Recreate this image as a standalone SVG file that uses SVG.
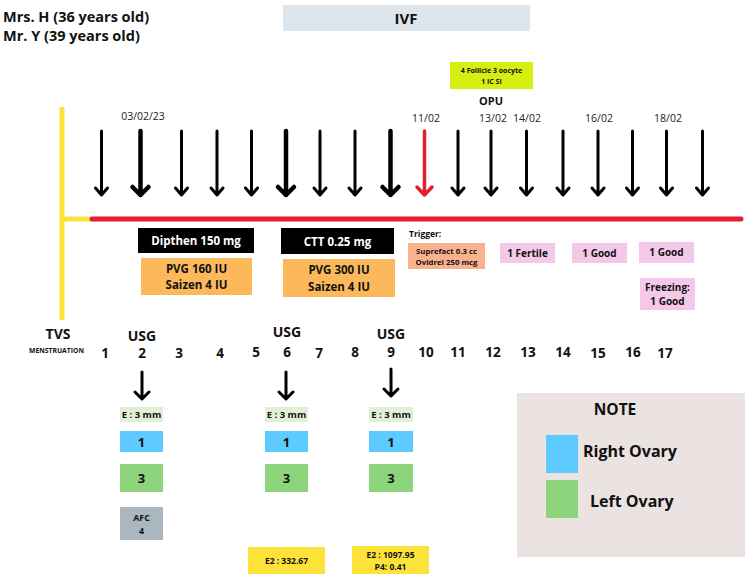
<svg xmlns="http://www.w3.org/2000/svg" width="750" height="582" viewBox="0 0 750 582">
<style>
text{font-family:"Open Sans","Liberation Sans",sans-serif;fill:#111}
.b{font-weight:700}
.c{text-anchor:middle}
.ar{fill:none;stroke:#000;stroke-width:3;stroke-linecap:round;stroke-linejoin:round}
.arb{fill:none;stroke:#000;stroke-width:4.5;stroke-linecap:round;stroke-linejoin:round}
.arr{fill:none;stroke:#e3202a;stroke-width:3.5;stroke-linecap:round;stroke-linejoin:round}
.date{font-size:10.5px;fill:#222}
.num{font-size:13.5px;font-weight:700}
.usg{font-size:14px;font-weight:700}
.pink{fill:#f3c8e8}
.pt{font-size:10px;font-weight:700}
.ez{fill:#e2efd4}
.et{font-size:9.5px;font-weight:700}
.blue{fill:#5dcbff}
.green{fill:#8dd47c}
.yel{fill:#fde23a}
</style>
<rect width="750" height="582" fill="#fff"/>

<g id="title">
<text class="b" x="3" y="22" font-size="14.5">Mrs. H (36 years old)</text>
<text class="b" x="3" y="41" font-size="14.5">Mr. Y (39 years old)</text>
</g>
<g id="ivf">
<rect x="283" y="5" width="247" height="26" fill="#dde6ed"/>
<text class="b c" x="406" y="24" font-size="15">IVF</text>
</g>
<g id="follicle">
<rect x="450" y="62" width="83" height="27" fill="#d6ef13"/>
<text class="b c" x="491.5" y="73" font-size="7">4 Follicle 3 oocyte</text>
<text class="b c" x="491.5" y="84" font-size="7">1 IC SI</text>
</g>
<g id="opu"><text class="b c" x="491" y="105" font-size="11">OPU</text></g>

<g id="dates">
<text class="date c" x="143" y="120">03/02/23</text>
<text class="date c" x="426" y="122">11/02</text>
<text class="date c" x="493" y="122">13/02</text>
<text class="date c" x="527" y="122">14/02</text>
<text class="date c" x="599" y="122">16/02</text>
<text class="date c" x="668" y="122">18/02</text>
</g>

<g id="connectors">
<line x1="62" y1="107" x2="62" y2="320" stroke="#fde23a" stroke-width="5"/>
<line x1="60" y1="219" x2="92" y2="219" stroke="#fde23a" stroke-width="5"/>
<line x1="92" y1="219" x2="741" y2="219" stroke="#e3202a" stroke-width="5" stroke-linecap="round"/>
<path class="ar" d="M101.5 131V195M95.5 188L101.5 195L107.5 188"/>
<path class="arb" d="M140.5 131V195M132.5 187L140.5 195L148.5 187"/>
<path class="ar" d="M181.5 131V195M175.5 188L181.5 195L187.5 188"/>
<path class="ar" d="M217 131V195M211 188L217 195L223 188"/>
<path class="ar" d="M251.5 131V195M245.5 188L251.5 195L257.5 188"/>
<path class="arb" d="M286 131V195M278 187L286 195L294 187"/>
<path class="ar" d="M320 131V195M314 188L320 195L326 188"/>
<path class="ar" d="M355 131V195M349 188L355 195L361 188"/>
<path class="arb" d="M390.5 131V195M382.5 187L390.5 195L398.5 187"/>
<path class="arr" d="M424.5 131V195M417 187L424.5 195L432 187"/>
<path class="ar" d="M458 131V195M452 188L458 195L464 188"/>
<path class="ar" d="M491 131V195M485 188L491 195L497 188"/>
<path class="ar" d="M526.5 131V195M520.5 188L526.5 195L532.5 188"/>
<path class="ar" d="M563 131V195M557 188L563 195L569 188"/>
<path class="ar" d="M598 131V195M592 188L598 195L604 188"/>
<path class="ar" d="M632.5 131V195M626.5 188L632.5 195L638.5 188"/>
<path class="ar" d="M666.5 131V195M660.5 188L666.5 195L672.5 188"/>
<path class="ar" d="M702.5 131V195M696.5 188L702.5 195L708.5 188"/>
<path class="ar" d="M142 372V399M135 392L142 399L149 392"/>
<path class="ar" d="M286 372V399M279 392L286 399L293 392"/>
<path class="ar" d="M391 369V396M384 389L391 396L398 389"/>
</g>

<g id="dipthen">
<rect x="138" y="228" width="116" height="25" fill="#000"/>
<text class="b c" x="196" y="245" font-size="11.5" style="fill:#fff">Dipthen 150 mg</text>
</g>
<g id="ctt">
<rect x="281" y="228" width="113" height="26" fill="#000"/>
<text class="b c" x="337.5" y="245.5" font-size="11.5" style="fill:#fff">CTT 0.25 mg</text>
</g>
<g id="pvg160">
<rect x="141" y="258" width="111" height="37" fill="#fbb95b"/>
<text class="b c" x="196.5" y="272.5" font-size="11.5">PVG 160 IU</text>
<text class="b c" x="196.5" y="289" font-size="11.5">Saizen 4 IU</text>
</g>
<g id="pvg300">
<rect x="283" y="259" width="112" height="38" fill="#fbb95b"/>
<text class="b c" x="339" y="274" font-size="11.5">PVG 300 IU</text>
<text class="b c" x="339" y="290.5" font-size="11.5">Saizen 4 IU</text>
</g>
<g id="trigger">
<text class="b" x="409" y="237" font-size="8.5">Trigger:</text>
<rect x="408" y="243" width="77" height="26" fill="#f9b18f"/>
<text class="b c" x="446.5" y="254" font-size="7.8">Suprefact 0.3 cc</text>
<text class="b c" x="446.5" y="264.5" font-size="7.8">Ovidrel 250 mcg</text>
</g>
<g id="fertile">
<rect class="pink" x="500" y="243" width="55" height="20"/>
<text class="pt c" x="527.5" y="256.5">1 Fertile</text>
</g>
<g id="good1">
<rect class="pink" x="572" y="243" width="55" height="20"/>
<text class="pt c" x="599.5" y="256.5">1 Good</text>
</g>
<g id="good2">
<rect class="pink" x="639" y="242" width="55" height="21"/>
<text class="pt c" x="666.5" y="256">1 Good</text>
</g>
<g id="freezing">
<rect class="pink" x="640" y="278" width="55" height="32"/>
<text class="pt c" x="667.5" y="291">Freezing:</text>
<text class="pt c" x="667.5" y="304.5">1 Good</text>
</g>

<g id="days">
<text class="b c" x="58" y="339" font-size="14">TVS</text>
<text class="b c" x="56.5" y="353" font-size="6.8">MENSTRUATION</text>
<text class="num c" x="105" y="358">1</text>
<text class="num c" x="142" y="358">2</text>
<text class="num c" x="179" y="358">3</text>
<text class="num c" x="220" y="358">4</text>
<text class="num c" x="256" y="357">5</text>
<text class="num c" x="287" y="357">6</text>
<text class="num c" x="319" y="358">7</text>
<text class="num c" x="355" y="357">8</text>
<text class="num c" x="391" y="357">9</text>
<text class="num c" x="426" y="357">10</text>
<text class="num c" x="458" y="357">11</text>
<text class="num c" x="493" y="357">12</text>
<text class="num c" x="528" y="357">13</text>
<text class="num c" x="563" y="357">14</text>
<text class="num c" x="598" y="358">15</text>
<text class="num c" x="633" y="357">16</text>
<text class="num c" x="665" y="358">17</text>
<text class="usg c" x="142" y="341">USG</text>
<text class="usg c" x="287" y="337">USG</text>
<text class="usg c" x="391" y="339">USG</text>
</g>

<g id="usg1">
<rect class="ez" x="120" y="407" width="43" height="15"/>
<text class="et c" x="141.5" y="418">E : 3 mm</text>
<rect class="blue" x="120" y="431" width="43" height="21"/>
<text class="b c" x="141.5" y="446.5" font-size="13">1</text>
<rect class="green" x="120" y="464" width="43" height="28"/>
<text class="b c" x="141.5" y="483" font-size="13">3</text>
</g>
<g id="afc">
<rect x="120" y="507" width="43" height="33" fill="#abb7c0"/>
<text class="b c" x="141.5" y="521" font-size="8.8">AFC</text>
<text class="b c" x="141.5" y="534" font-size="8.8">4</text>
</g>
<g id="usg2">
<rect class="ez" x="265" y="407" width="43" height="15"/>
<text class="et c" x="286.5" y="418">E : 3 mm</text>
<rect class="blue" x="265" y="431" width="43" height="21"/>
<text class="b c" x="286.5" y="446.5" font-size="13">1</text>
<rect class="green" x="265" y="464" width="43" height="28"/>
<text class="b c" x="286.5" y="483" font-size="13">3</text>
</g>
<g id="usg3">
<rect class="ez" x="369" y="407" width="44" height="15"/>
<text class="et c" x="391" y="418">E : 3 mm</text>
<rect class="blue" x="369" y="431" width="44" height="21"/>
<text class="b c" x="391" y="446.5" font-size="13">1</text>
<rect class="green" x="369" y="464" width="44" height="28"/>
<text class="b c" x="391" y="483" font-size="13">3</text>
</g>
<g id="e2a">
<rect class="yel" x="248" y="547" width="77" height="27"/>
<text class="b c" x="286.5" y="564" font-size="8.5">E2 : 332.67</text>
</g>
<g id="e2b">
<rect class="yel" x="352" y="546" width="77" height="28"/>
<text class="b c" x="390.5" y="558" font-size="8.5">E2 : 1097.95</text>
<text class="b c" x="390.5" y="569.5" font-size="8.5">P4: 0.41</text>
</g>

<g id="note">
<rect x="517" y="393" width="228" height="164" fill="#ebe2e2"/>
<text class="b c" x="615" y="415" font-size="15.5">NOTE</text>
<rect class="blue" x="546" y="435" width="32" height="38"/>
<text class="b" x="583" y="457" font-size="16">Right Ovary</text>
<rect class="green" x="546" y="480" width="32" height="38"/>
<text class="b" x="590" y="507" font-size="16">Left Ovary</text>
</g>
</svg>
